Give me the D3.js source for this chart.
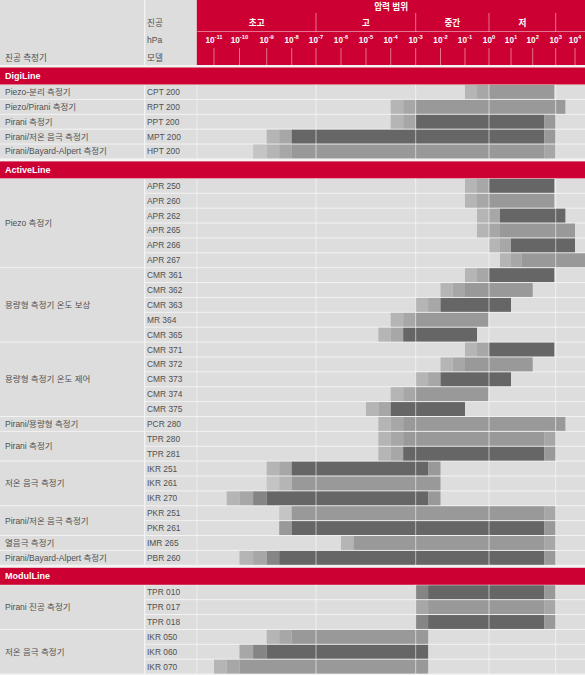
<!DOCTYPE html>
<html><head><meta charset="utf-8">
<script src="https://cdn.jsdelivr.net/npm/d3@7"></script>
<style>
html,body{margin:0;padding:0;background:#fff;}
svg{display:block;font-family:"Liberation Sans","Noto Sans CJK KR",Arial,sans-serif;}
</style></head><body>
<svg id="chart" width="585" height="675"></svg>
<script>
// ================= DATA =================
const pressureTitle = "압력 범위";
const rangeNames = ["초고", "고", "중간", "저"];
const rangeFrom = [null, -7, -3, 0];      // log10(hPa)
const rangeTo   = [-7, -3, 0, 3];
const tickExps  = d3.range(-11, 5);       // 10^-11 ... 10^4
const headerLeft = { vacuum: "진공", unit: "hPa", model: "모델", gauge: "진공 측정기" };
const sections = ["DigiLine", "ActiveLine", "ModulLine"];

// tone levels: 1 lightest … 4 mid grey … 6 dark grey
// segments: [from log10 hPa, to log10 hPa, tone]
const digiGroups = ["Piezo-분리 측정기", "Piezo/Pirani 측정기", "Pirani 측정기", "Pirani/저온 음극 측정기", "Pirani/Bayard-Alpert 측정기"];
const digiGroupSizes = [1, 1, 1, 1, 1];
const digiModels = ["CPT 200", "RPT 200", "PPT 200", "MPT 200", "HPT 200"];
const digiBars = [
  [[-1, -0.5, 2], [-0.5, 0, 3], [0, 2.94, 4]],
  [[-4, -3.5, 2], [-3.5, -3, 3], [-3, 3, 4], [3, 3.5, 4]],
  [[-4, -3.5, 2], [-3.5, -3, 3], [-3, 2.5, 6], [2.5, 3, 4]],
  [[-9, -8.5, 2], [-8.5, -8, 3], [-8, 2.5, 6], [2.5, 3, 4]],
  [[-9.5, -9, 1], [-9, -8.5, 2], [-8.5, -8, 3], [-8, 2.5, 4], [2.5, 3, 3]]
];

const activeGroups = ["Piezo 측정기", "용량형 측정기 온도 보상", "용량형 측정기 온도 제어", "Pirani/용량형 측정기", "Pirani 측정기", "저온 음극 측정기", "Pirani/저온 음극 측정기", "열음극 측정기", "Pirani/Bayard-Alpert 측정기"];
const activeGroupSizes = [6, 5, 5, 1, 2, 3, 2, 1, 1];
const activeModels = ["APR 250", "APR 260", "APR 262", "APR 265", "APR 266", "APR 267",
  "CMR 361", "CMR 362", "CMR 363", "MR 364", "CMR 365",
  "CMR 371", "CMR 372", "CMR 373", "CMR 374", "CMR 375",
  "PCR 280", "TPR 280", "TPR 281", "IKR 251", "IKR 261", "IKR 270",
  "PKR 251", "PKR 261", "IMR 265", "PBR 260"];
const activeBars = [
  [[-1, -0.5, 2], [-0.5, 0, 3], [0, 2.94, 6]],
  [[-1, -0.5, 2], [-0.5, 0, 3], [0, 2.94, 4]],
  [[-0.5, 0, 2], [0, 0.5, 3], [0.5, 3.5, 6]],
  [[-0.5, 0, 2], [0, 0.5, 3], [0.5, 4, 4]],
  [[0, 0.5, 2], [0.5, 1, 3], [1, 4, 6]],
  [[0.5, 1, 2], [1, 1.5, 3], [1.5, 4.6, 4]],
  [[-1, -0.5, 2], [-0.5, 0, 3], [0, 2.94, 6]],
  [[-2, -1.5, 2], [-1.5, -1, 3], [-1, 2, 4]],
  [[-3, -2.5, 2], [-2.5, -2, 3], [-2, 1, 6]],
  [[-4, -3.5, 2], [-3.5, -3, 3], [-3, -0.03, 4]],
  [[-4.5, -4, 2], [-4, -3.5, 3], [-3.5, -0.5, 6]],
  [[-1, -0.5, 2], [-0.5, 0, 3], [0, 2.94, 6]],
  [[-2, -1.5, 2], [-1.5, -1, 3], [-1, 2, 4]],
  [[-3, -2.5, 2], [-2.5, -2, 3], [-2, 1, 6]],
  [[-4, -3.5, 2], [-3.5, -3, 3], [-3, -0.03, 4]],
  [[-5, -4.5, 2], [-4.5, -4, 3], [-4, -1, 6]],
  [[-4.5, -4, 2], [-4, -3.5, 3], [-3.5, 3, 4], [3, 3.5, 4]],
  [[-4.5, -4, 2], [-4, -3.5, 3], [-3.5, 2.5, 4], [2.5, 3, 3]],
  [[-4.5, -4, 2], [-4, -3.5, 3], [-3.5, 2.5, 6], [2.5, 3, 4]],
  [[-9, -8.5, 2], [-8.5, -8, 3], [-8, -2.5, 6], [-2.5, -2, 4]],
  [[-9, -8.5, 1], [-8.5, -8, 2], [-8, -2, 4]],
  [[-10.5, -10, 2], [-10, -9.5, 3], [-9.5, -9, 5], [-9, -2.5, 6], [-2.5, -2, 4]],
  [[-8.5, -8, 1], [-8, 2.5, 4], [2.5, 3, 3]],
  [[-8.5, -8, 4], [-8, 2.5, 6], [2.5, 3, 4]],
  [[-6, -5.5, 2], [-5.5, 2.5, 4], [2.5, 3, 3]],
  [[-10, -9.5, 2], [-9.5, -9, 3], [-9, -8.5, 5], [-8.5, 2.5, 6], [2.5, 3, 4]]
];

const modulGroups = ["Pirani 진공 측정기", "저온 음극 측정기"];
const modulGroupSizes = [3, 3];
const modulModels = ["TPR 010", "TPR 017", "TPR 018", "IKR 050", "IKR 060", "IKR 070"];
const modulBars = [
  [[-3, -2.5, 5], [-2.5, 2.5, 6], [2.5, 3, 4]],
  [[-3, -2.5, 3], [-2.5, 2.5, 4], [2.5, 3, 3]],
  [[-3, -2.5, 5], [-2.5, 2.5, 6], [2.5, 3, 4]],
  [[-9, -8.5, 2], [-8.5, -8, 3], [-8, -2.5, 4]],
  [[-10, -9.5, 3], [-9.5, -9, 5], [-9, -2.5, 6]],
  [[-11, -10.5, 2], [-10.5, -10, 3], [-10, -2.5, 4]]
];

// ================= LAYOUT =================
const W = 585, H = 675;
const RED = "#cc0033", CELL = "#dddddd", GAPC = "#f3f3f3", TXT = "#505050";
const labelX0 = 0, labelX1 = 144, modelX0 = 145.3, modelX1 = 196.6, chartL = 197.3, chartR = W;
const headerH = 65, gap = 2.5, bandH = 17, rowH = 14.88;
// pixel position of each decade tick (the original axis is not perfectly uniform)
const tickPx = [214, 239.5, 266.7, 291.7, 316, 341, 366, 390.7, 415.7, 440.5, 465, 489, 511, 532.7, 555.7, 575];

const x = d3.scaleLog().domain(tickExps.map(e => Math.pow(10, e))).range(tickPx);
const xe = e => x(Math.pow(10, e));
const tone = d3.scaleOrdinal().domain([1, 2, 3, 4, 5, 6])
  .range(["#c4c4c4", "#b5b5b5", "#a7a7a7", "#999999", "#858585", "#666666"]);

const svg = d3.select("#chart");
svg.append("rect").attr("width", W).attr("height", H).attr("fill", GAPC);
svg.append("defs").append("clipPath").attr("id", "clipChart")
  .append("rect").attr("x", chartL).attr("y", 0).attr("width", chartR - chartL).attr("height", H);

// ---------- header ----------
const hdr = svg.append("g");
hdr.append("rect").attr("x", labelX0).attr("y", 0).attr("width", labelX1 - labelX0).attr("height", headerH).attr("fill", CELL);
hdr.append("rect").attr("x", modelX0).attr("y", 0).attr("width", modelX1 - modelX0).attr("height", headerH).attr("fill", CELL);
hdr.append("rect").attr("x", chartL - 0.5).attr("y", 0).attr("width", chartR - chartL + 0.5).attr("height", headerH).attr("fill", RED);

const hText = (t, xx, yy) => hdr.append("text").attr("x", xx).attr("y", yy).attr("font-size", 8.6).attr("fill", TXT).text(t);
hText(headerLeft.vacuum, 147, 25.5);
hText(headerLeft.unit, 147, 42.5);
hText(headerLeft.model, 147, 60.5);
hText(headerLeft.gauge, 5, 60.5);

hdr.append("text").attr("x", (chartL + chartR) / 2).attr("y", 9.5).attr("text-anchor", "middle")
  .attr("font-size", 8.6).attr("font-weight", "bold").attr("fill", "#fff").text(pressureTitle);
hdr.append("line").attr("x1", chartL).attr("x2", chartR).attr("y1", 31.5).attr("y2", 31.5)
  .attr("stroke", "#fff").attr("stroke-opacity", 0.45);
rangeNames.forEach((n, i) => {
  const a = rangeFrom[i] === null ? chartL : xe(rangeFrom[i]);
  const b = xe(rangeTo[i]);
  hdr.append("text").attr("x", (a + b) / 2).attr("y", 25.5).attr("text-anchor", "middle")
    .attr("font-size", 8.6).attr("font-weight", "bold").attr("fill", "#fff").text(n);
  hdr.append("line").attr("x1", b).attr("x2", b).attr("y1", 13).attr("y2", 31.5)
    .attr("stroke", "#fff").attr("stroke-opacity", 0.45);
});
tickExps.forEach(e => {
  const t = hdr.append("text").attr("x", xe(e)).attr("y", 42.5).attr("text-anchor", "middle")
    .attr("fill", "#fff").attr("font-weight", "bold");
  t.append("tspan").attr("font-size", 8.2).text("10");
  t.append("tspan").attr("font-size", 5.8).attr("dy", -3.2).text(e < 0 ? "-" + (-e) : String(e));
  hdr.append("line").attr("x1", xe(e)).attr("x2", xe(e)).attr("y1", 48).attr("y2", headerH)
    .attr("stroke", "#fff").attr("stroke-opacity", 0.45);
});

// ---------- body ----------
const sectionData = [
  { groups: digiGroups, sizes: digiGroupSizes, models: digiModels, bars: digiBars },
  { groups: activeGroups, sizes: activeGroupSizes, models: activeModels, bars: activeBars },
  { groups: modulGroups, sizes: modulGroupSizes, models: modulModels, bars: modulBars }
];

let y = headerH;
const body = svg.append("g");
sectionData.forEach((sec, si) => {
  y += gap;
  body.append("rect").attr("x", 0).attr("y", y).attr("width", W).attr("height", bandH).attr("fill", RED);
  body.append("text").attr("x", 5).attr("y", y + bandH / 2 + 3.2).attr("font-size", 9)
    .attr("font-weight", "bold").attr("fill", "#fff").text(sections[si]);
  y += bandH;
  const secTop = y;
  // group label cells
  let gy = y;
  sec.groups.forEach((g, gi) => {
    const h = sec.sizes[gi] * rowH;
    body.append("rect").attr("x", labelX0).attr("y", gy + 0.5).attr("width", labelX1 - labelX0).attr("height", h - 1).attr("fill", CELL);
    body.append("text").attr("x", 5).attr("y", gy + h / 2 + 3).attr("font-size", 8.5).attr("fill", TXT).text(g);
    gy += h;
  });
  // model rows + bars
  sec.models.forEach((m, ri) => {
    const ry = y + ri * rowH;
    body.append("rect").attr("x", modelX0).attr("y", ry + 0.5).attr("width", modelX1 - modelX0).attr("height", rowH - 1).attr("fill", CELL);
    body.append("text").attr("x", 147).attr("y", ry + rowH / 2 + 3).attr("font-size", 8.4).attr("fill", TXT).text(m);
    body.append("rect").attr("x", chartL).attr("y", ry + 0.5).attr("width", chartR - chartL).attr("height", rowH - 1).attr("fill", CELL);
    const bg = body.append("g").attr("clip-path", "url(#clipChart)");
    bg.selectAll("rect").data(sec.bars[ri]).join("rect")
      .attr("x", d => xe(d[0])).attr("width", d => xe(d[1]) - xe(d[0]))
      .attr("y", ry + 0.5).attr("height", rowH - 1)
      .attr("fill", d => tone(d[2]));
  });
  const secBottom = y + sec.models.length * rowH;
  // major vertical grid lines
  rangeTo.forEach(e => {
    body.append("line").attr("x1", xe(e)).attr("x2", xe(e)).attr("y1", secTop).attr("y2", secBottom)
      .attr("stroke", "#fff").attr("stroke-opacity", 0.55).attr("stroke-width", 1);
  });
  y = secBottom;
});
</script>
</body></html>
